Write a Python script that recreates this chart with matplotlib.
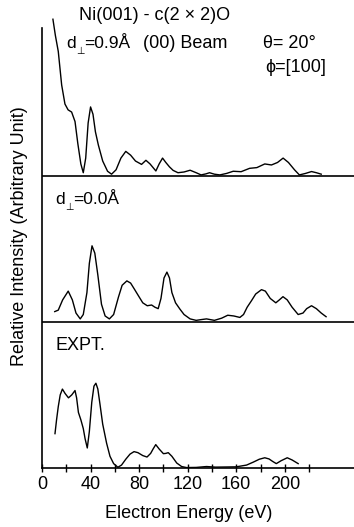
import matplotlib
matplotlib.use('Agg')
import matplotlib.pyplot as plt

# d_perp = 0.9 A calculation (top curve)
E09 = [9, 11, 13.4, 16.2, 18.9, 21.5, 24.4, 27.2, 29.5, 32, 34, 36, 38, 40, 42,
       44, 46.4, 50, 54, 57.3, 61, 65, 69, 73, 77, 82, 85.6, 89, 93.8, 96.5,
       99.3, 102, 105, 108, 112, 117, 122, 127, 131, 135, 138, 142, 146.5, 152,
       157.5, 164, 171, 177, 183.5, 189, 194, 198.6, 203, 208, 212, 217, 222,
       226, 230]
I09 = [1.07, 0.96, 0.85, 0.62, 0.49, 0.45, 0.435, 0.37, 0.22, 0.08, 0.02, 0.12,
       0.36, 0.47, 0.42, 0.30, 0.21, 0.10, 0.03, 0.01, 0.04, 0.12, 0.166, 0.14,
       0.10, 0.077, 0.105, 0.08, 0.032, 0.08, 0.12, 0.09, 0.06, 0.036, 0.02,
       0.025, 0.037, 0.02, 0.005, 0.012, 0.02, 0.01, 0.005, 0.015, 0.03, 0.027,
       0.05, 0.055, 0.08, 0.073, 0.09, 0.12, 0.09, 0.04, 0.005, 0.015, 0.028,
       0.02, 0.01]

# d_perp = 0.0 A calculation (middle curve)
E00 = [10.5, 13.4, 17, 21.6, 25, 28, 31.5, 34, 37, 39, 41.2, 43.5, 46, 49, 52,
       55.5, 59, 63, 66, 69.9, 73, 76, 79.3, 83, 86.7, 90.3, 93, 95.7, 98,
       100.5, 102.9, 105, 107, 110, 113.6, 117, 122, 127, 131, 135.5, 142, 148,
       153, 158, 163, 166, 169, 172.6, 176, 180.8, 184, 188, 192.6, 195.5,
       198.5, 202, 206, 211, 215, 218, 222, 226, 230, 234]
I00 = [0.07, 0.08, 0.15, 0.21, 0.15, 0.06, 0.02, 0.05, 0.2, 0.40, 0.52, 0.47,
       0.32, 0.12, 0.04, 0.02, 0.05, 0.17, 0.25, 0.28, 0.265, 0.225, 0.18, 0.13,
       0.11, 0.115, 0.10, 0.09, 0.16, 0.30, 0.34, 0.30, 0.2, 0.13, 0.087, 0.05,
       0.02, 0.01, 0.015, 0.02, 0.01, 0.025, 0.045, 0.04, 0.03, 0.05, 0.1,
       0.145, 0.19, 0.22, 0.21, 0.16, 0.13, 0.15, 0.172, 0.15, 0.10, 0.05, 0.06,
       0.09, 0.11, 0.09, 0.06, 0.035]

# experiment (bottom curve)
EEX = [10.7, 12, 13.4, 15, 16.8, 19, 21.8, 24.5, 27.2, 28.5, 30, 32, 34, 35.5,
       37.3, 39, 41, 42.8, 44.4, 46, 47.7, 50, 53.2, 56, 59, 62.5, 65.5, 69,
       72.5, 75.8, 79, 83, 86.5, 89.5, 91.5, 93.7, 96.5, 100, 102, 104, 107,
       111, 115, 119, 127, 135.5, 143, 152, 160, 168.5, 174, 179, 183.5, 187,
       190, 193, 197, 202, 206, 211]
IEX = [0.235, 0.33, 0.42, 0.5, 0.54, 0.51, 0.48, 0.50, 0.53, 0.48, 0.38, 0.33,
       0.27, 0.2, 0.137, 0.25, 0.45, 0.56, 0.58, 0.54, 0.44, 0.30, 0.17, 0.08,
       0.03, 0.005, 0.02, 0.06, 0.095, 0.112, 0.105, 0.085, 0.075, 0.1, 0.13,
       0.16, 0.13, 0.098, 0.10, 0.105, 0.08, 0.034, 0.01, 0.003, 0.004, 0.01,
       0.006, 0.007, 0.008, 0.02, 0.04, 0.06, 0.07, 0.062, 0.045, 0.03, 0.05,
       0.07, 0.055, 0.03]

XTICKS = [0, 20, 40, 60, 80, 100, 120, 140, 160, 180, 200, 220]
XLABELS = ['0', '', '40', '', '80', '', '120', '', '160', '', '200', '']

plt.rcParams['font.family'] = ['Liberation Sans', 'DejaVu Sans']

W, H = 354, 527
fig = plt.figure(figsize=(W / 100, H / 100), dpi=100)
ax = fig.add_axes([42 / W, (H - 468) / H, 1 - 42 / W, 440 / H])

# curves stacked with offsets 2, 1, 0
ax.plot(E09, [v + 2 for v in I09], color='black', lw=1.0, clip_on=False)
ax.plot(E00, [v + 1 for v in I00], color='black', lw=1.0)
ax.plot(EEX, IEX, color='black', lw=1.0)
for base in (1, 2):
    ax.axhline(base, color='black', lw=1.2)

ax.set_xlim(0, 257)
ax.set_ylim(0, 3.01)
ax.spines['top'].set_visible(False)
ax.spines['right'].set_visible(False)
ax.spines['left'].set_linewidth(1.2)
ax.spines['bottom'].set_linewidth(1.2)
ax.set_yticks([])
ax.set_xticks(XTICKS)
ax.set_xticklabels(XLABELS)
ax.tick_params(axis='x', direction='inout', length=6, width=1.0,
               labelsize=13, pad=3)

fig.text(189 / W, 1 - 514 / H, 'Electron Energy (eV)', ha='center',
         va='center', fontsize=13)
fig.text(20 / W, 1 - 236 / H, 'Relative Intensity (Arbitrary Unit)',
         ha='center', va='center', rotation=90, fontsize=13)


def label(px, py, s, size=13, **kw):
    fig.text(px / W, 1 - py / H, s, ha='left', va='center', fontsize=size, **kw)


def dperp(px, py, value):
    # d with a lowered "perpendicular" subscript, then "=value"
    label(px, py, 'd', size=12.5)
    label(px + 10, py + 8, '⊥', size=7, family='DejaVu Sans')
    label(px + 18.5, py, '=' + value, size=12.5)


label(79, 15, 'Ni(001) - c(2 × 2)O')
dperp(66, 43, '0.9Å')
label(143, 43, '(00) Beam')
label(263, 43, 'θ= 20°')
label(265, 68, 'ϕ=[100]')
dperp(55, 199, '0.0Å')
label(55, 345, 'EXPT.')

fig.savefig('out.png', dpi=100)
